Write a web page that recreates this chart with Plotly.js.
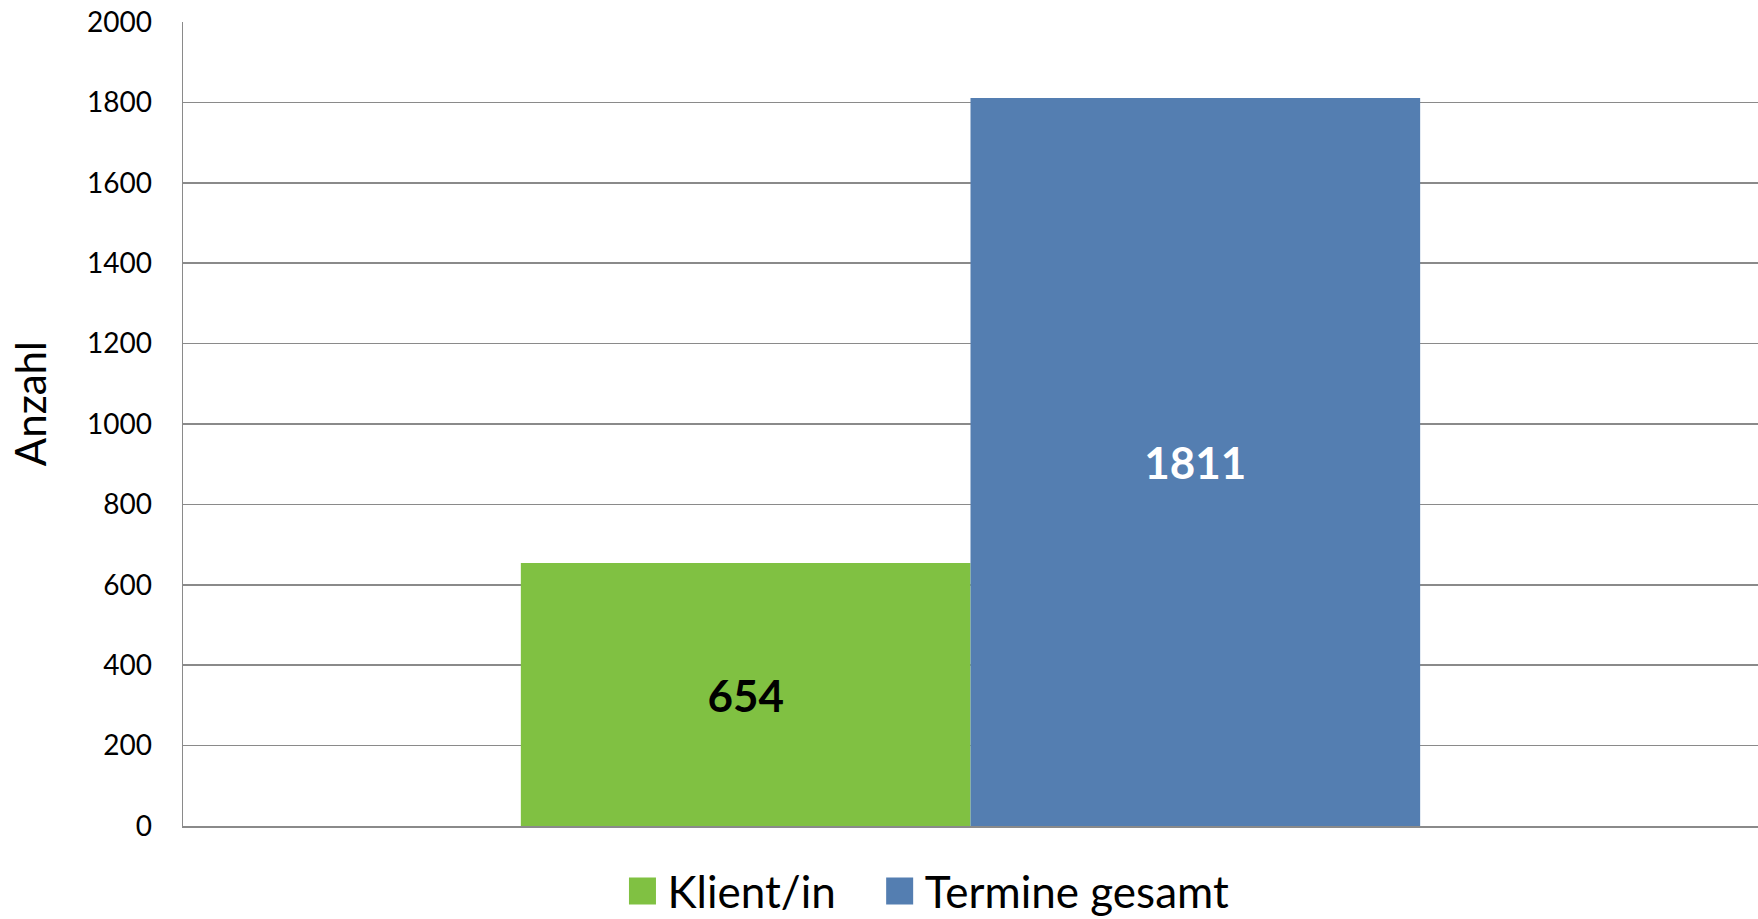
<!DOCTYPE html>
<html>
<head>
<meta charset="utf-8">
<script src="https://cdn.plot.ly/plotly-3.0.1.min.js"></script>
<style>
  html, body { margin: 0; padding: 0; background: #fff; }
  #chart { width: 1758px; height: 919px; }
</style>
</head>
<body>
<div id="chart"></div>
<script>
// data
const category = [''];
const seriesNames = ['Klient/in', 'Termine gesamt'];
const klientValues = [654];
const termineValues = [1811];
const yTickVals = [0, 200, 400, 600, 800, 1000, 1200, 1400, 1600, 1800, 2000];
const yTitle = 'Anzahl';

const FONT = 'Lato, "Open Sans", sans-serif';
const GRID = '#8a8a8a';

const traces = [
  {
    type: 'bar',
    name: seriesNames[0],
    legend: 'legend',
    x: category,
    y: klientValues,
    marker: { color: '#80c142' },
    texttemplate: '%{y}',
    textposition: 'inside',
    insidetextanchor: 'middle',
    textangle: 0,
    constraintext: 'none',
    textfont: { family: FONT, size: 44, color: '#000', weight: 'bold' },
    hoverinfo: 'y+name'
  },
  {
    type: 'bar',
    name: seriesNames[1],
    legend: 'legend2',
    x: category,
    y: termineValues,
    marker: { color: '#547eb1' },
    texttemplate: '%{y}',
    textposition: 'inside',
    insidetextanchor: 'middle',
    textangle: 0,
    constraintext: 'none',
    textfont: { family: FONT, size: 44, color: '#fff', weight: 'bold' },
    hoverinfo: 'y+name'
  }
];

// one legend per series so each entry sits where the reference has it
const legendBase = {
  orientation: 'h',
  xanchor: 'left',
  yref: 'container',
  y: 0.03,
  yanchor: 'middle',
  bgcolor: 'rgba(0,0,0,0)',
  font: { family: FONT, size: 44, color: '#000' }
};

const layout = {
  width: 1758,
  height: 919,
  margin: { l: 183, r: 0, t: 22, b: 93 },
  paper_bgcolor: '#fff',
  plot_bgcolor: '#fff',
  font: { family: FONT, color: '#000' },
  barmode: 'group',
  bargap: 0.429,
  bargroupgap: 0,
  showlegend: true,
  legend: Object.assign({}, legendBase, { x: 0.2822 }),
  legend2: Object.assign({}, legendBase, { x: 0.4455 }),
  xaxis: {
    showticklabels: false,
    ticks: '',
    showgrid: false,
    showline: true,
    linecolor: GRID,
    linewidth: 1.5,
    fixedrange: true
  },
  yaxis: {
    range: [0, 2000],
    tickvals: yTickVals,
    ticktext: yTickVals.map(String),
    tickfont: { family: FONT, size: 28, color: '#000' },
    ticks: '',
    ticklabelstandoff: 24,
    showgrid: true,
    gridcolor: GRID,
    gridwidth: 1.5,
    zeroline: false,
    showline: true,
    linecolor: GRID,
    linewidth: 1.5,
    fixedrange: true
  },
  // axis title placed as in the reference (a bit above the axis middle)
  annotations: [{
    text: yTitle,
    xref: 'paper', yref: 'paper',
    x: -0.097, y: 0.525,
    xanchor: 'center', yanchor: 'middle',
    textangle: -90,
    showarrow: false,
    font: { family: FONT, size: 42, color: '#000' }
  }]
};

Plotly.newPlot('chart', traces, layout, { displayModeBar: false, staticPlot: true }).then(() => {
  // enlarge the legend swatches to match the reference
  document.querySelectorAll('.legendpoints path').forEach(p => {
    p.setAttribute('d', 'M8.5,13.5H-18.5V-13.5H8.5Z');
  });
});
</script>
</body>
</html>
